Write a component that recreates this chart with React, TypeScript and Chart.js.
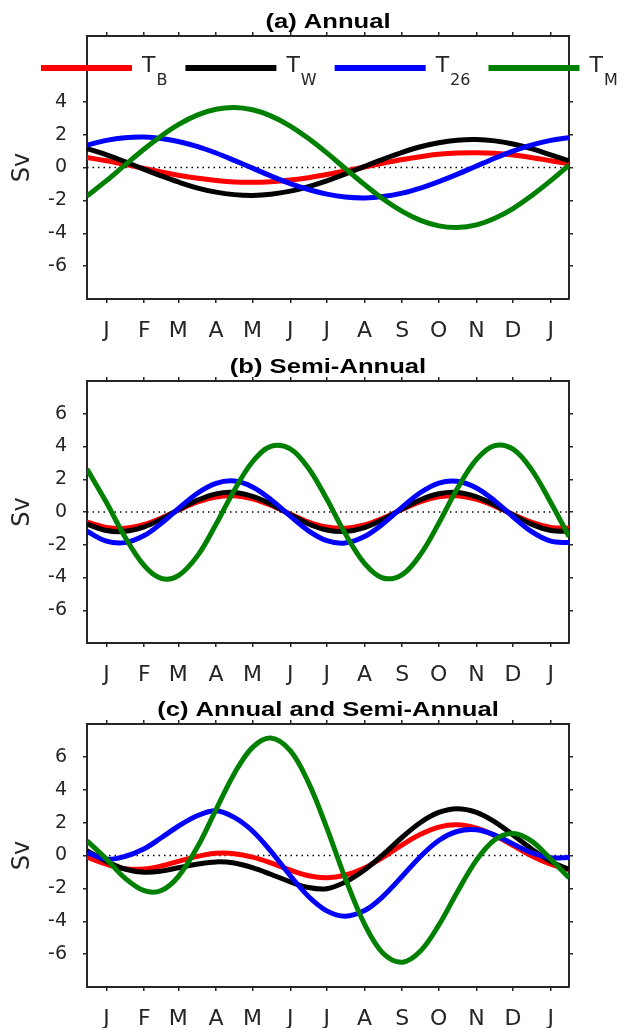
import React, { useEffect, useRef } from 'react';
import { Chart, registerables } from 'chart.js';

Chart.register(...registerables);

// ---------- data ----------
// x positions (day of year) at which values were read
const sampleDays = [-1, 15, 30, 46, 60, 74, 90, 105, 120, 135, 150, 166, 181, 196, 211, 227, 242, 258, 273, 288, 303, 319, 334, 349, 364, 380, 395];
const monthTickDays = [15, 46, 74, 105, 135, 166, 196, 227, 258, 288, 319, 349, 380];
const monthLabels = ['J', 'F', 'M', 'A', 'M', 'J', 'J', 'A', 'S', 'O', 'N', 'D', 'J'];
const annualYTicks = [-6, -4, -2, 0, 2, 4];
const fullYTicks = [-6, -4, -2, 0, 2, 4, 6];

const seriesMain = ['T', 'T', 'T', 'T'];
const seriesSub = ['B', 'W', '26', 'M'];

// (a) Annual
const annualTB = [0.61, 0.41, 0.19, -0.06, -0.27, -0.47, -0.66, -0.79, -0.88, -0.90, -0.86, -0.76, -0.62, -0.43, -0.21, 0.03, 0.26, 0.49, 0.66, 0.80, 0.88, 0.90, 0.86, 0.76, 0.61, 0.41, 0.22];
const annualTW = [1.15, 0.77, 0.36, -0.11, -0.51, -0.88, -1.25, -1.50, -1.65, -1.70, -1.63, -1.44, -1.16, -0.81, -0.40, 0.07, 0.50, 0.92, 1.26, 1.51, 1.66, 1.70, 1.62, 1.43, 1.15, 0.77, 0.40];
const annualT26 = [1.36, 1.65, 1.81, 1.85, 1.77, 1.58, 1.27, 0.88, 0.43, -0.04, -0.51, -0.98, -1.34, -1.62, -1.80, -1.85, -1.77, -1.56, -1.25, -0.86, -0.42, 0.09, 0.56, 0.99, 1.36, 1.65, 1.81];
const annualTM = [-1.73, -0.80, 0.14, 1.13, 1.92, 2.61, 3.20, 3.54, 3.65, 3.51, 3.14, 2.52, 1.76, 0.89, -0.05, -1.04, -1.90, -2.67, -3.22, -3.55, -3.65, -3.49, -3.09, -2.50, -1.73, -0.80, 0.14];

// (b) Semi-Annual
const semiTB = [-0.62, -0.94, -0.99, -0.76, -0.37, 0.11, 0.61, 0.92, 0.99, 0.80, 0.41, -0.13, -0.61, -0.92, -0.99, -0.79, -0.38, 0.16, 0.63, 0.93, 0.99, 0.77, 0.36, -0.15, -0.62, -0.94, -0.99];
const semiTW = [-0.74, -1.13, -1.18, -0.91, -0.44, 0.13, 0.73, 1.11, 1.19, 0.96, 0.49, -0.16, -0.73, -1.10, -1.19, -0.95, -0.46, 0.19, 0.75, 1.11, 1.19, 0.93, 0.43, -0.18, -0.74, -1.13, -1.18];
const semiT26 = [-1.18, -1.78, -1.87, -1.44, -0.69, 0.20, 1.16, 1.75, 1.89, 1.53, 0.77, -0.25, -1.15, -1.75, -1.89, -1.50, -0.73, 0.30, 1.19, 1.77, 1.88, 1.47, 0.68, -0.29, -1.18, -1.78, -1.87];
const semiTM = [2.62, 0.58, -1.50, -3.27, -4.05, -3.89, -2.65, -0.75, 1.33, 3.07, 4.01, 3.86, 2.67, 0.79, -1.30, -3.14, -4.03, -3.82, -2.59, -0.69, 1.40, 3.21, 4.05, 3.84, 2.62, 0.58, -1.50];

// (c) Annual and Semi-Annual
const bothTB = [-0.10, -0.53, -0.80, -0.82, -0.64, -0.36, -0.05, 0.13, 0.11, -0.10, -0.45, -0.89, -1.23, -1.35, -1.20, -0.76, -0.12, 0.65, 1.29, 1.73, 1.87, 1.67, 1.22, 0.61, -0.01, -0.53, -0.85];
const bothTW = [0.30, -0.36, -0.82, -1.02, -0.95, -0.75, -0.52, -0.39, -0.46, -0.74, -1.14, -1.60, -1.95, -2.02, -1.62, -0.88, 0.04, 1.11, 2.01, 2.62, 2.85, 2.63, 2.05, 1.25, 0.41, -0.36, -0.85];
const bothT26 = [0.18, -0.22, -0.06, 0.41, 1.08, 1.78, 2.43, 2.72, 2.32, 1.49, 0.26, -1.23, -2.49, -3.37, -3.69, -3.35, -2.50, -1.26, -0.06, 0.91, 1.46, 1.56, 1.24, 0.70, 0.18, -0.13, -0.12];
const bothTM = [0.89, -0.22, -1.36, -2.14, -2.13, -1.28, 0.55, 2.79, 4.98, 6.58, 7.15, 6.38, 4.43, 1.68, -1.35, -4.18, -5.93, -6.49, -5.81, -4.24, -2.25, -0.28, 0.96, 1.34, 0.89, -0.22, -1.36];

// ---------- style ----------
const TITLE_FONT = '"Liberation Sans", Arial, sans-serif';
const FONT = '"DejaVu Sans", sans-serif';
const INK = '#262626';
const seriesColors = ['#ff0000', '#000000', '#0000ff', '#008000'];
const X_MIN = -1;
const X_MAX = 395;
const PAGE_W = 625;
const PLOT_LEFT = 87;
const PLOT_RIGHT = 569;
const TICK = 4;
const TITLE_STRETCH = 1.22;

const titlePlugin = {
  id: 'panelTitle',
  afterDraw(chart: any, _args: any, opts: any) {
    const ctx = chart.ctx;
    const a = chart.chartArea;
    ctx.save();
    ctx.font = `bold 21px ${TITLE_FONT}`;
    ctx.fillStyle = '#000';
    ctx.textBaseline = 'alphabetic';
    ctx.textAlign = 'center';
    ctx.translate((a.left + a.right) / 2, a.top - 8.5);
    ctx.scale(TITLE_STRETCH, 1);
    ctx.fillText(opts.text, 0, 0);
    ctx.restore();
  },
};

const legendPlugin = {
  id: 'subLegend',
  afterDraw(chart: any, _args: any, opts: any) {
    if (!opts.show) return;
    const ctx = chart.ctx;
    const lineY = 68;
    let x = 41;
    ctx.save();
    for (let i = 0; i < seriesMain.length; i++) {
      ctx.strokeStyle = seriesColors[i];
      ctx.lineWidth = 6;
      ctx.lineCap = 'butt';
      ctx.beginPath();
      ctx.moveTo(x, lineY);
      ctx.lineTo(x + 91, lineY);
      ctx.stroke();
      let tx = x + 101;
      ctx.fillStyle = INK;
      ctx.textAlign = 'left';
      ctx.textBaseline = 'alphabetic';
      ctx.font = `22px ${FONT}`;
      ctx.fillText(seriesMain[i], tx, 72);
      tx += ctx.measureText(seriesMain[i]).width + 1;
      ctx.font = `16px ${FONT}`;
      ctx.fillText(seriesSub[i], tx, 84.5);
      tx += ctx.measureText(seriesSub[i]).width;
      x = tx + 18;
    }
    ctx.restore();
  },
};

type PanelCfg = {
  title: string;
  top: number;
  height: number;
  plotTop: number;
  plotBottom: number;
  yTicks: number[];
  series: number[][];
  legend: boolean;
};

const panels: PanelCfg[] = [
  { title: '(a) Annual', top: 0, height: 343, plotTop: 36, plotBottom: 299, yTicks: annualYTicks, series: [annualTB, annualTW, annualT26, annualTM], legend: true },
  { title: '(b) Semi-Annual', top: 343, height: 343, plotTop: 38, plotBottom: 300, yTicks: fullYTicks, series: [semiTB, semiTW, semiT26, semiTM], legend: false },
  { title: '(c) Annual and Semi-Annual', top: 686, height: 342, plotTop: 38, plotBottom: 301, yTicks: fullYTicks, series: [bothTB, bothTW, bothT26, bothTM], legend: false },
];

function Panel({ cfg }: { cfg: PanelCfg }) {
  const ref = useRef<HTMLCanvasElement>(null);
  useEffect(() => {
    const canvas = ref.current!;
    const grid = { display: true, drawOnChartArea: false, drawTicks: true, tickLength: TICK, color: INK, lineWidth: 1.5 };
    const border = { display: true, color: INK, width: 2 };
    const xTicks = (s: any) => { s.ticks = monthTickDays.map((v) => ({ value: v })); };
    const yTicksFn = (s: any) => { s.ticks = cfg.yTicks.map((v) => ({ value: v })); };

    const datasets: any[] = [
      {
        label: 'zero',
        data: [{ x: X_MIN, y: 0 }, { x: X_MAX, y: 0 }],
        borderColor: '#000',
        borderWidth: 1.4,
        borderDash: [1.5, 4],
        pointRadius: 0,
        tension: 0,
        order: 10,
      },
      ...cfg.series.map((vals, i) => ({
        label: seriesMain[i] + '_' + seriesSub[i],
        data: sampleDays.map((d, j) => ({ x: d, y: vals[j] })),
        borderColor: seriesColors[i],
        borderWidth: 5,
        pointRadius: 0,
        tension: 0.36,
        fill: false,
        order: 3 - i,
      })),
    ];

    const chart = new Chart(canvas, {
      type: 'line',
      data: { datasets },
      plugins: [titlePlugin, legendPlugin],
      options: {
        animation: false,
        responsive: false,
        maintainAspectRatio: false,
        devicePixelRatio: 1,
        events: [],
        layout: { padding: { top: cfg.plotTop - TICK, left: 0, right: PAGE_W - PLOT_RIGHT - TICK, bottom: 0 } },
        plugins: {
          legend: { display: false },
          tooltip: { enabled: false },
          title: { display: false },
          panelTitle: { text: cfg.title },
          subLegend: { show: cfg.legend },
        } as any,
        scales: {
          x: {
            type: 'linear', position: 'bottom', min: X_MIN, max: X_MAX,
            afterBuildTicks: xTicks,
            afterFit: (s: any) => { s.height = cfg.height - cfg.plotBottom; },
            ticks: { autoSkip: false, maxRotation: 0, minRotation: 0, padding: 15, color: INK, font: { family: FONT, size: 22 }, callback: (_v: any, i: number) => monthLabels[i] },
            grid, border,
          },
          x2: {
            type: 'linear', position: 'top', min: X_MIN, max: X_MAX,
            afterBuildTicks: xTicks,
            afterFit: (s: any) => { s.height = TICK; },
            ticks: { display: false },
            grid, border,
          },
          y: {
            type: 'linear', position: 'left', min: -8, max: 8,
            afterBuildTicks: yTicksFn,
            afterFit: (s: any) => { s.width = PLOT_LEFT; },
            ticks: { padding: 16, color: INK, font: { family: FONT, size: 19 }, callback: (v: any) => String(v) },
            title: { display: true, text: 'Sv', color: INK, font: { family: FONT, size: 24 }, padding: { top: 8, bottom: 0 } },
            grid, border,
          },
          y2: {
            type: 'linear', position: 'right', min: -8, max: 8,
            afterBuildTicks: yTicksFn,
            afterFit: (s: any) => { s.width = TICK; },
            ticks: { display: false },
            grid, border,
          },
        } as any,
      },
    });
    return () => chart.destroy();
  }, [cfg]);

  return (
    <canvas
      ref={ref}
      width={PAGE_W}
      height={cfg.height}
      style={{ position: 'absolute', left: 0, top: cfg.top, width: PAGE_W, height: cfg.height, display: 'block' }}
    />
  );
}

export default function App() {
  return (
    <div style={{ position: 'absolute', left: 0, top: 0, width: PAGE_W, height: 1028, overflow: 'hidden', background: '#fff' }}>
      {panels.map((p) => (
        <Panel key={p.title} cfg={p} />
      ))}
    </div>
  );
}
